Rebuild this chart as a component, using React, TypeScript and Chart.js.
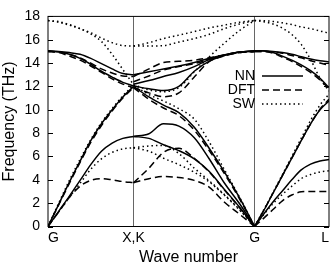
import React, { useEffect, useRef } from "react";
import { Chart, registerables } from "chart.js";

Chart.register(...registerables);

// ---- axis data ----
const kPoints = [0, 1, 2.415, 3.285];
const kLabels = ["G", "X,K", "G", "L"];
const yTicks = [0, 2, 4, 6, 8, 10, 12, 14, 16, 18];
const legendLabels = ["NN", "DFT", "SW"];

// wave-number samples per path segment
const xGX = [0, 0.125, 0.25, 0.375, 0.5, 0.625, 0.75, 0.875, 1];
const xKG = [1, 1.18, 1.35, 1.53, 1.71, 1.88, 2.06, 2.24, 2.415];
const xGL = [2.415, 2.52, 2.63, 2.74, 2.85, 2.96, 3.07, 3.18, 3.285];

// ---- NN (solid) ----
const nnGX_TA = [0, 1.3, 2.6, 3.95, 5.3, 6.45, 7.15, 7.55, 7.72];
const nnGX_LA = [0, 1.9, 3.8, 5.6, 7.35, 8.8, 10.0, 11.1, 12.0];
const nnGX_TO = [15.05, 15.0, 14.9, 14.75, 14.4, 13.95, 13.5, 13.1, 13.0];
const nnGX_LO = [15.05, 14.95, 14.75, 14.4, 13.9, 13.3, 12.8, 12.35, 12.05];

const nnKG_TA1 = [7.72, 7.55, 7.0, 6.5, 5.8, 4.75, 3.2, 1.65, 0];
const nnKG_TA2 = [7.72, 7.95, 8.8, 8.6, 7.6, 5.85, 3.75, 1.95, 0];
const nnKG_LA = [12.0, 11.1, 10.4, 9.75, 8.5, 6.75, 4.7, 2.45, 0];
const nnKG_O1 = [13.0, 13.25, 13.5, 13.75, 14.05, 14.4, 14.7, 14.95, 15.05];
const nnKG_O2 = [12.2, 12.5, 12.85, 13.2, 13.7, 14.3, 14.7, 14.95, 15.05];
const nnKG_O3 = [12.05, 11.8, 11.65, 12.0, 13.3, 14.15, 14.65, 14.95, 15.05];

const nnGL_TA = [0, 1.05, 2.1, 3.05, 4.0, 4.85, 5.35, 5.62, 5.74];
const nnGL_LA = [0, 1.33, 2.85, 4.35, 5.85, 7.35, 8.8, 10.0, 10.75];
const nnGL_TO = [15.05, 15.05, 15.0, 14.9, 14.75, 14.55, 14.35, 14.2, 14.1];
const nnGL_LO = [15.05, 15.03, 14.9, 14.6, 14.25, 13.85, 13.35, 12.7, 11.9];

// ---- DFT (dashed) ----
const dftGX_TA = [0, 1.25, 2.5, 3.45, 3.95, 4.1, 4.0, 3.85, 3.75];
const dftGX_LA = [0, 1.85, 3.7, 5.5, 7.2, 8.65, 9.9, 11.0, 11.9];
const dftGX_TO = [15.0, 14.95, 14.75, 14.45, 14.0, 13.5, 13.15, 12.9, 12.85];
const dftGX_LO = [15.0, 14.9, 14.6, 14.25, 13.75, 13.2, 12.65, 12.2, 11.9];

const dftKG_TAlow = [3.75, 4.1, 4.28, 4.2, 3.95, 3.4, 2.1, 1.05, 0];
const dftKG_TArise = [3.75, 5.0, 6.35, 6.7, 5.85, 4.7, 3.15, 1.6, 0];
const dftKG_LA = [11.9, 10.9, 10.15, 9.5, 8.25, 6.55, 4.55, 2.35, 0];
const dftKG_O1 = [12.85, 13.5, 14.05, 14.15, 14.25, 14.45, 14.7, 14.9, 15.0];
const dftKG_O2 = [12.4, 12.9, 13.4, 13.7, 13.95, 14.3, 14.65, 14.9, 15.0];
const dftKG_O3 = [11.9, 11.45, 11.12, 11.45, 12.8, 14.1, 14.6, 14.9, 15.0];

const dftGL_TA = [0, 0.7, 1.45, 2.2, 2.7, 2.97, 3.0, 3.0, 3.0];
const dftGL_LA = [0, 1.35, 2.85, 4.35, 5.85, 7.35, 8.8, 10.05, 10.9];
const dftGL_TO = [15.0, 15.0, 14.95, 14.85, 14.65, 14.45, 14.2, 14.0, 13.8];
const dftGL_LO = [15.0, 15.0, 14.85, 14.5, 14.15, 13.7, 13.2, 12.55, 11.8];

// ---- SW (dotted) ----
const swGX_TA = [0, 1.25, 2.5, 3.7, 4.9, 5.8, 6.35, 6.65, 6.75];
const swGX_LA = [0, 2.0, 3.95, 5.75, 7.45, 8.9, 10.1, 11.2, 12.1];
const swGX_TO = [17.65, 17.5, 17.25, 16.95, 16.6, 16.15, 15.75, 15.5, 15.46];
const swGX_LO = [17.65, 17.55, 17.3, 16.95, 16.5, 15.85, 14.75, 13.45, 12.15];

const swKG_TAa = [6.75, 6.9, 6.95, 6.25, 5.0, 3.95, 2.75, 1.45, 0];
const swKG_TAb = [6.75, 6.45, 5.85, 5.3, 4.65, 3.85, 2.7, 1.4, 0];
const swKG_LA = [12.1, 11.3, 10.75, 10.1, 9.2, 7.3, 4.9, 2.5, 0];
const swKG_O1 = [15.46, 15.75, 16.1, 16.4, 16.7, 17.0, 17.25, 17.5, 17.65];
const swKG_O2 = [15.46, 15.46, 15.5, 15.8, 16.1, 16.45, 16.95, 17.35, 17.65];
const swKG_LO = [12.15, 11.7, 11.55, 11.9, 13.25, 14.5, 15.7, 16.8, 17.65];

const swGL_TA = [0, 1.0, 1.95, 2.75, 3.45, 4.1, 4.45, 4.68, 4.78];
const swGL_LA = [0, 1.4, 2.9, 4.45, 6.0, 7.55, 9.1, 10.4, 11.35];
const swGL_TO = [17.65, 17.63, 17.57, 17.45, 17.3, 17.1, 16.95, 16.75, 16.56];
const swGL_LO = [17.65, 17.55, 17.35, 17.0, 16.45, 15.6, 14.3, 12.7, 11.6];

const SOLID: number[] = [];
const DASHED = [7, 4];
const DOTTED = [1.5, 3];
const DASHES = [SOLID, DASHED, DOTTED];

type Branch = { xs: number[]; ys: number[]; dash: number[] };

const group = (xs: number[], list: number[][], dash: number[]): Branch[] =>
  list.map((ys) => ({ xs, ys, dash }));

const branches: Branch[] = [
  ...group(xGX, [swGX_TA, swGX_LA, swGX_TO, swGX_LO], DOTTED),
  ...group(xKG, [swKG_TAa, swKG_TAb, swKG_LA, swKG_O1, swKG_O2, swKG_LO], DOTTED),
  ...group(xGL, [swGL_TA, swGL_LA, swGL_TO, swGL_LO], DOTTED),
  ...group(xGX, [dftGX_TA, dftGX_LA, dftGX_TO, dftGX_LO], DASHED),
  ...group(xKG, [dftKG_TAlow, dftKG_TArise, dftKG_LA, dftKG_O1, dftKG_O2, dftKG_O3], DASHED),
  ...group(xGL, [dftGL_TA, dftGL_LA, dftGL_TO, dftGL_LO], DASHED),
  ...group(xGX, [nnGX_TA, nnGX_LA, nnGX_TO, nnGX_LO], SOLID),
  ...group(xKG, [nnKG_TA1, nnKG_TA2, nnKG_LA, nnKG_O1, nnKG_O2, nnKG_O3], SOLID),
  ...group(xGL, [nnGL_TA, nnGL_LA, nnGL_TO, nnGL_LO], SOLID),
];

const FONT = "'Liberation Sans', Arial, Helvetica, sans-serif";

const framePlugin = {
  id: "frameAndLegend",
  afterDraw(chart: any) {
    const { ctx, chartArea } = chart;
    const { left, right, top, bottom } = chartArea;
    const y = chart.scales.y;
    ctx.save();
    ctx.strokeStyle = "#000";
    ctx.lineWidth = 1;
    ctx.setLineDash([]);
    ctx.strokeRect(left, top, right - left, bottom - top);
    // inward ticks on left and right
    ctx.beginPath();
    for (const v of yTicks) {
      const py = Math.round(y.getPixelForValue(v)) + 0.5;
      ctx.moveTo(left, py);
      ctx.lineTo(left + 5, py);
      ctx.moveTo(right, py);
      ctx.lineTo(right - 5, py);
    }
    ctx.stroke();
    // legend
    ctx.font = `14px ${FONT}`;
    ctx.fillStyle = "#000";
    ctx.textAlign = "right";
    ctx.textBaseline = "middle";
    const rows = [76, 90, 104];
    legendLabels.forEach((lab, i) => {
      const ly = rows[i];
      ctx.fillText(lab, 255, ly);
      ctx.beginPath();
      ctx.lineWidth = 1.5;
      ctx.setLineDash(DASHES[i]);
      ctx.moveTo(262, ly);
      ctx.lineTo(303, ly);
      ctx.stroke();
    });
    ctx.restore();
  },
};

export default function App() {
  const ref = useRef<HTMLCanvasElement | null>(null);

  useEffect(() => {
    if (!ref.current) return;
    Chart.defaults.font.family = FONT;
    const chart = new Chart(ref.current, {
      type: "line",
      data: {
        datasets: branches.map((b) => ({
          data: b.xs.map((x, i) => ({ x, y: b.ys[i] })),
          borderColor: "#000",
          borderWidth: 1.5,
          borderDash: b.dash,
          pointRadius: 0,
          fill: false,
          cubicInterpolationMode: "monotone" as const,
        })),
      },
      options: {
        responsive: false,
        animation: false,
        layout: { padding: { top: 7, right: 1, left: 0, bottom: 0 } },
        plugins: { legend: { display: false }, tooltip: { enabled: false } },
        scales: {
          x: {
            type: "linear",
            min: 0,
            max: 3.285,
            afterBuildTicks: (s: any) => {
              s.ticks = kPoints.map((v) => ({ value: v }));
            },
            afterFit: (s: any) => {
              s.height = 42.5;
            },
            ticks: {
              callback: (_v: any, i: number) => kLabels[i],
              align: "inner",
              autoSkip: false,
              maxRotation: 0,
              color: "#000",
              font: { size: 14 },
              padding: 3,
            },
            grid: {
              color: (c: any) => (c.index === 1 || c.index === 2 ? "#666" : "rgba(0,0,0,0)"),
              lineWidth: 1,
              drawTicks: false,
            },
            border: { display: false },
            title: {
              display: true,
              text: "Wave number",
              color: "#000",
              font: { size: 16 },
              padding: { top: 0, bottom: 2 },
            },
          },
          y: {
            min: 0,
            max: 18,
            afterFit: (s: any) => {
              s.width = 48;
            },
            ticks: { stepSize: 2, color: "#000", font: { size: 14 }, padding: 8 },
            grid: { display: false, drawTicks: false },
            border: { display: false },
            title: {
              display: true,
              text: "Frequency (THz)",
              color: "#000",
              font: { size: 16 },
              padding: { top: 0, bottom: 0 },
            },
          },
        },
      },
      plugins: [framePlugin],
    } as any);
    return () => chart.destroy();
  }, []);

  return (
    <div style={{ position: "absolute", left: 0, top: 0, width: 332, height: 269, background: "#fff" }}>
      <canvas ref={ref} width={332} height={269} style={{ display: "block" }} />
    </div>
  );
}
